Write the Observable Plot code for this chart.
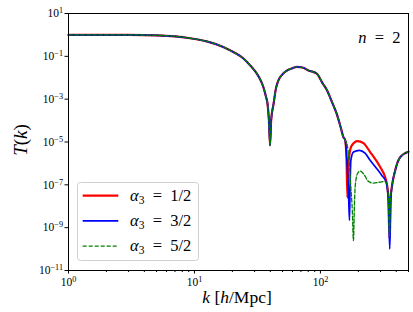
<!DOCTYPE html>
<html><head><meta charset="utf-8">
<script src="https://cdn.jsdelivr.net/npm/d3@7"></script>
<script src="https://cdn.jsdelivr.net/npm/@observablehq/plot@0.6"></script>
<style>
html,body{margin:0;padding:0;background:#fff;}
svg{display:block;}
svg text{font-family:"Liberation Serif","DejaVu Serif",serif !important;}
</style></head><body><div id="chart"></div>
<script>
// shared part of T(k) (all three curves coincide)
const kCommon = [1, 3, 5, 7, 9.2, 12.5, 16.9, 20.5, 24.5, 28, 31.3, 33.5, 35.2, 37, 38, 39, 39.8, 40.6, 42.5, 44.3, 46.4, 50, 54.4, 60, 65, 72, 80.3, 93.5, 104, 112.7, 124, 134.5, 145, 152];
const TCommon = [1.0, 1.0, 0.96, 0.86, 0.70, 0.50, 0.275, 0.155, 0.079, 0.035, 0.0155, 0.0076, 0.0037, 0.00126, 0.00062, 0.0001, 0.0000069, 0.0001, 0.00063, 0.0031, 0.0076, 0.0145, 0.022, 0.028, 0.032, 0.030, 0.022, 0.0155, 0.0055, 0.0026, 0.00069, 0.00021, 0.000047, 0.000017];

// tails where the curves differ
const kRed = [157, 161, 163.8, 166, 170, 177.5, 196.6, 219.5, 248, 298, 326, 336.7, 346, 353, 360, 368.8, 392, 429.6, 500];
const TRed = [1.26e-5, 1.6e-6, 2.5e-8, 6.3e-7, 2.8e-6, 6.9e-6, 1.1e-5, 8.9e-6, 3.4e-6, 6.8e-7, 2.3e-7, 1.1e-7, 2.5e-8, 3.2e-10, 2.5e-8, 7.9e-8, 4.7e-7, 1.95e-6, 3.5e-6];

const kBlue = [157, 163.8, 167, 170, 172, 174.3, 182.8, 204, 226, 248, 280.5, 307, 332, 346, 355, 362, 368.8, 392, 429.6, 500];
const TBlue = [1.26e-5, 5e-7, 5e-8, 2.2e-9, 1e-7, 1.4e-6, 3.4e-6, 4.1e-6, 3e-6, 1.4e-6, 5.6e-7, 2.75e-7, 1.35e-7, 2e-8, 1e-10, 2e-8, 7.9e-8, 4.7e-7, 1.95e-6, 3.5e-6];

const kGreen = [157, 163.8, 166.8, 170.5, 174.3, 179, 182.8, 186, 188.5, 196.6, 206.5, 219.5, 240.4, 263.6, 298, 326, 336.7, 346, 353, 360, 368.8, 392, 429.6, 500];
const TGreen = [1.26e-5, 6.3e-6, 2.8e-6, 6e-7, 7.9e-8, 6.3e-9, 2.5e-10, 1e-8, 7.9e-8, 3.3e-7, 4.4e-7, 3.3e-7, 1.45e-7, 1.2e-7, 1.35e-7, 1.45e-7, 1.05e-7, 2.5e-8, 4e-10, 2.5e-8, 7.9e-8, 4.7e-7, 1.95e-6, 3.5e-6];

const seriesAlpha = ["1/2", "3/2", "5/2"];
const seriesColors = ["#ff0000", "#0000ff", "#008000"];
const annotation = "n = 2";

const xMajor = [1, 10, 100];
const xMinor = [2,3,4,5,6,7,8,9,20,30,40,50,60,70,80,90,200,300,400,500];
const yMajor = [1e1, 1e-1, 1e-3, 1e-5, 1e-7, 1e-9, 1e-11];

function build(kT, TT) {
  const rows = kCommon.map((k, i) => ({k, T: TCommon[i]}));
  kT.forEach((k, i) => rows.push({k, T: TT[i]}));
  return rows;
}
const dataRed = build(kRed, TRed);
const dataBlue = build(kBlue, TBlue);
const dataGreen = build(kGreen, TGreen);

const expFmt = d => "10^" + String(Math.round(Math.log10(d))).replace("-", "\u2212");
const FONT = "'Liberation Serif','DejaVu Serif',serif";

const svg = Plot.plot({
  width: 413, height: 312,
  marginLeft: 68, marginRight: 5, marginTop: 13, marginBottom: 42,
  style: {fontFamily: FONT, fontSize: "11.5px", color: "#000", background: "#fff", overflow: "visible"},
  x: {type: "log", domain: [1, 500], axis: null},
  y: {type: "log", domain: [1e-11, 10], axis: null},
  marks: [
    Plot.line(dataRed, {x: "k", y: "T", stroke: seriesColors[0], strokeWidth: 2.2, curve: "monotone-x"}),
    Plot.line(dataBlue, {x: "k", y: "T", stroke: seriesColors[1], strokeWidth: 1.7, curve: "monotone-x"}),
    Plot.line(dataGreen, {x: "k", y: "T", stroke: seriesColors[2], strokeWidth: 1.3, strokeDasharray: "4,2", curve: "monotone-x"}),
    Plot.frame({stroke: "#000", strokeWidth: 1}),
    Plot.axisX({ticks: xMinor, tickSize: 2, tickFormat: () => "", label: null}),
    Plot.axisX({ticks: xMajor, tickSize: 3.5, tickPadding: 4, tickFormat: expFmt, label: null}),
    Plot.axisY({ticks: yMajor, tickSize: 3.5, tickPadding: 2, tickFormat: expFmt, label: null}),
    Plot.text([annotation], {frameAnchor: "top-right", dx: -8, dy: 18, fontSize: 16.5, textAnchor: "end"})
  ]
});

const s = d3.select(svg);
s.attr("font-family", FONT);
// superscripts
s.selectAll("text").each(function() {
  const t = this.textContent;
  if (t.includes("^")) {
    const [base, ex] = t.split("^");
    const el = d3.select(this);
    el.text(null);
    el.append("tspan").text(base);
    el.append("tspan").attr("dy", "-4").attr("font-size", "8.2px").text(ex);
  }
});
// n = 2 annotation: italic n only
s.selectAll("text").filter(function() { return this.textContent === annotation; }).each(function() {
  const el = d3.select(this);
  el.text(null);
  el.append("tspan").attr("font-style", "italic").text("n");
  el.append("tspan").text("\u2002=\u20022");
});

// axis labels
const xl = s.append("text").attr("x", 237).attr("y", 303).attr("text-anchor", "middle")
  .attr("font-size", "17.5px").attr("font-family", FONT);
xl.append("tspan").attr("font-style", "italic").text("k");
xl.append("tspan").text(" [");
xl.append("tspan").attr("font-style", "italic").text("h");
xl.append("tspan").text("/Mpc]");

const yl = s.append("text").attr("transform", "translate(27,140) rotate(-90)").attr("text-anchor", "middle")
  .attr("font-size", "19px").attr("font-family", FONT);
yl.append("tspan").attr("font-style", "italic").text("T");
yl.append("tspan").text("(");
yl.append("tspan").attr("font-style", "italic").text("k");
yl.append("tspan").text(")");

// legend
const lg = s.append("g").attr("font-family", FONT).attr("font-size", "16.5px").attr("text-anchor", "start");
lg.append("rect").attr("x", 77.5).attr("y", 182.5).attr("width", 121).attr("height", 78).attr("rx", 3)
  .attr("fill", "#fff").attr("fill-opacity", 0.8).attr("stroke", "#d0d0d0").attr("stroke-width", 1);
const lw = [2.2, 1.7, 1.3];
const ld = [null, null, "4,2"];
seriesAlpha.forEach((a, i) => {
  const y = 195.7 + i * 25.2;
  lg.append("line").attr("x1", 82.7).attr("x2", 118.3).attr("y1", y).attr("y2", y)
    .attr("stroke", seriesColors[i]).attr("stroke-width", lw[i]).attr("stroke-dasharray", ld[i]);
  const t = lg.append("text").attr("x", 130).attr("y", y + 5).attr("text-anchor", "start");
  t.append("tspan").attr("font-style", "italic").text("α");
  t.append("tspan").attr("font-size", "11.5px").attr("dy", 3).text("3");
  t.append("tspan").attr("dy", -3).text("\u2002=\u2002" + a);
});

document.getElementById("chart").appendChild(svg);
</script>
</body></html>
